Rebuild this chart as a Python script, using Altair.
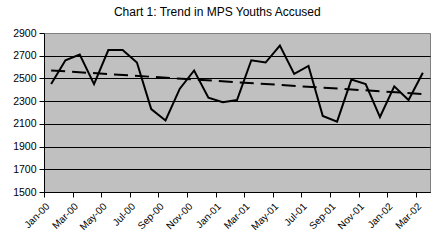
import json
import altair as alt
import pandas as pd

months = ["Jan-00", "Feb-00", "Mar-00", "Apr-00", "May-00", "Jun-00", "Jul-00", "Aug-00", "Sep-00",
          "Oct-00", "Nov-00", "Dec-00", "Jan-01", "Feb-01", "Mar-01", "Apr-01", "May-01", "Jun-01",
          "Jul-01", "Aug-01", "Sep-01", "Oct-01", "Nov-01", "Dec-01", "Jan-02", "Feb-02", "Mar-02"]
youths_accused = [2450, 2660, 2710, 2450, 2750, 2750, 2640, 2230, 2130, 2410, 2570, 2330, 2290,
                  2310, 2660, 2640, 2790, 2540, 2610, 2170, 2120, 2490, 2450, 2160, 2430, 2310, 2550]
y_ticks = [1500, 1700, 1900, 2100, 2300, 2500, 2700, 2900]

df = pd.DataFrame({"i": list(range(len(months))), "month": months, "v": youths_accused})

tick_labels = months[::2]
tick_pos = [k - 0.5 for k in range(0, len(months), 2)]
label_expr = json.dumps(tick_labels) + "[round((datum.value + 0.5) / 2)]"

FONT = "Liberation Sans"

x = alt.X("i:Q",
          scale=alt.Scale(domain=[-0.5, len(months) - 0.5], nice=False, zero=False),
          axis=alt.Axis(values=tick_pos, labelExpr=label_expr, labelAngle=-45, title=None,
                        grid=False, tickSize=5, tickColor="black", domainColor="black",
                        labelColor="black", labelFont=FONT, labelFontSize=10, labelPadding=4,
                        labelOverlap=False, labelBound=False, labelFlush=False))
y = alt.Y("v:Q",
          scale=alt.Scale(domain=[1500, 2900], nice=False, zero=False),
          axis=alt.Axis(values=y_ticks, title=None, grid=True,
                        gridColor=alt.condition("datum.value == 2900", alt.value("#808080"), alt.value("black")),
                        gridWidth=1, tickSize=5, tickColor="black", domainColor="black",
                        labelColor="black", labelFont=FONT, labelFontSize=10.5, labelPadding=3,
                        format="d"))

base = alt.Chart(df)
line = base.mark_line(color="black", strokeWidth=2).encode(x=x, y=y)
trend = base.mark_line(color="black", strokeWidth=2, strokeDash=[14, 7]).transform_regression(
    "i", "v").encode(x=x, y=y)

chart = alt.layer(line, trend).properties(
    width=386, height=159,
    autosize="none",
    padding={"left": 44, "top": 33, "right": 13, "bottom": 53},
    background="white",
    title=alt.TitleParams("Chart 1: Trend in MPS Youths Accused", font=FONT, fontSize=12,
                          fontWeight="normal", color="black", anchor="middle", frame="bounds",
                          offset=9, dx=-4),
).configure_view(fill="#C0C0C0", stroke="#808080", strokeWidth=1)

chart.save("out.html", embed_options={"renderer": "svg", "actions": False})
